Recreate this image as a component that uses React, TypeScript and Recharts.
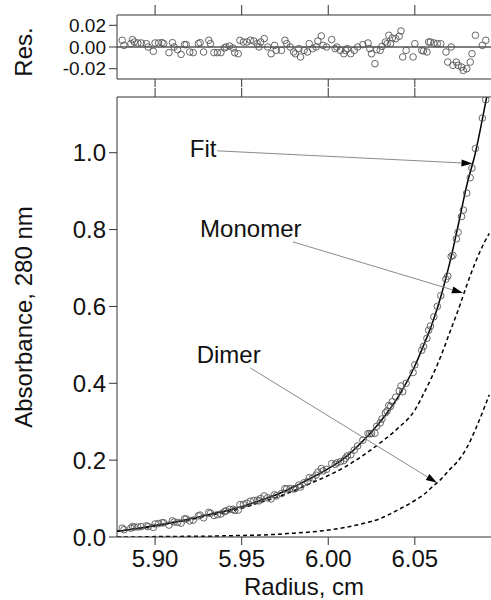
import React from 'react';
import {
  ComposedChart, Scatter, Line, XAxis, YAxis, ReferenceLine, ReferenceDot,
} from 'recharts';

// scan points (radius, cm)
const scanRadius = [
  5.881, 5.882, 5.886, 5.887, 5.888, 5.890, 5.892, 5.895, 5.896, 5.899,
  5.900, 5.902, 5.904, 5.905, 5.908, 5.910, 5.911, 5.913, 5.915, 5.917,
  5.918, 5.920, 5.922, 5.925, 5.926, 5.928, 5.931, 5.932, 5.934, 5.936,
  5.938, 5.940, 5.941, 5.943, 5.945, 5.946, 5.948, 5.949, 5.951, 5.953,
  5.955, 5.957, 5.959, 5.960, 5.961, 5.963, 5.965, 5.967, 5.969, 5.970,
  5.973, 5.975, 5.976, 5.978, 5.980, 5.981, 5.983, 5.984, 5.986, 5.988,
  5.989, 5.991, 5.993, 5.994, 5.996, 5.997, 5.999, 6.002, 6.004, 6.005,
  6.007, 6.009, 6.010, 6.011, 6.013, 6.015, 6.017, 6.020, 6.023, 6.024,
  6.025, 6.027, 6.028, 6.030, 6.031, 6.033, 6.034, 6.035, 6.036, 6.037,
  6.039, 6.041, 6.042, 6.043, 6.045, 6.049, 6.050, 6.054, 6.055, 6.057,
  6.058, 6.059, 6.061, 6.063, 6.065, 6.068, 6.069, 6.071, 6.072, 6.074, 6.075,
  6.077, 6.078, 6.080, 6.082, 6.083, 6.085, 6.089, 6.091,
];

const absorbance = [
  0.023, 0.019, 0.023, 0.027, 0.026, 0.026, 0.027, 0.029, 0.027, 0.025,
  0.034, 0.035, 0.037, 0.037, 0.031, 0.042, 0.039, 0.038, 0.036, 0.047,
  0.047, 0.042, 0.044, 0.055, 0.057, 0.050, 0.064, 0.062, 0.056, 0.058,
  0.060, 0.066, 0.068, 0.072, 0.072, 0.069, 0.070, 0.084, 0.085, 0.088,
  0.093, 0.095, 0.096, 0.094, 0.100, 0.107, 0.102, 0.099, 0.110, 0.107,
  0.113, 0.126, 0.125, 0.126, 0.125, 0.126, 0.135, 0.130, 0.141, 0.144,
  0.154, 0.154, 0.161, 0.169, 0.178, 0.172, 0.176, 0.191, 0.189, 0.193,
  0.196, 0.199, 0.205, 0.211, 0.214, 0.226, 0.237, 0.252, 0.269, 0.269,
  0.269, 0.270, 0.288, 0.297, 0.307, 0.323, 0.328, 0.342, 0.340, 0.352,
  0.364, 0.380, 0.393, 0.378, 0.400, 0.428, 0.448, 0.486, 0.496, 0.517,
  0.538, 0.549, 0.573, 0.600, 0.628, 0.671, 0.679, 0.730, 0.733, 0.776, 0.793,
  0.834, 0.851, 0.895, 0.935, 0.960, 1.011, 1.090, 1.138,
];

const residuals = [
  0.0062, 0.0015, 0.0031, 0.0068, 0.0046, 0.0037, 0.0037, 0.0031, 0.0000, -0.0040,
  0.0037, 0.0037, 0.0040, 0.0031, -0.0052, 0.0040, 0.0000, -0.0025, -0.0068, 0.0022,
  0.0022, -0.0046, -0.0052, 0.0031, 0.0040, -0.0046, 0.0062, 0.0031, -0.0052, -0.0052,
  -0.0052, -0.0009, 0.0000, 0.0009, -0.0009, -0.0052, -0.0062, 0.0062, 0.0046, 0.0046,
  0.0062, 0.0055, 0.0031, 0.0000, 0.0046, 0.0077, 0.0000, -0.0062, 0.0015, -0.0031,
  -0.0031, 0.0062, 0.0031, 0.0000, -0.0046, -0.0062, -0.0015, -0.0092, -0.0031, -0.0046,
  0.0031, -0.0015, 0.0000, 0.0055, 0.0102, 0.0015, 0.0000, 0.0068, -0.0015, 0.0000,
  -0.0031, -0.0062, -0.0031, -0.0015, -0.0062, -0.0031, 0.0000, 0.0022, 0.0037, -0.0015,
  -0.0062, -0.0154, -0.0025, -0.0031, 0.0006, 0.0046, 0.0031, 0.0108, 0.0031, 0.0083,
  0.0077, 0.0099, 0.0148, -0.0092, -0.0031, -0.0092, 0.0031, -0.0031, -0.0037, -0.0046,
  0.0046, 0.0046, 0.0037, 0.0031, 0.0030, -0.0046, -0.0139, 0.0000, -0.0169, -0.0139, -0.0169,
  -0.0185, -0.0216, -0.0200, -0.0139, -0.0062, 0.0108, 0.0015, 0.0062,
];

// model curves
const curveRadius = [
  5.878, 5.89, 5.90, 5.91, 5.92, 5.93, 5.94, 5.95, 5.96, 5.97, 5.98, 5.99, 6.00,
  6.01, 6.02, 6.03, 6.04, 6.05, 6.055, 6.06, 6.065, 6.07, 6.075, 6.08, 6.085, 6.09, 6.093,
];
const fitAbs = [
  0.015, 0.022, 0.030, 0.038, 0.047, 0.057, 0.067, 0.079, 0.094, 0.110, 0.130, 0.153, 0.178,
  0.208, 0.250, 0.300, 0.362, 0.445, 0.498, 0.555, 0.625, 0.710, 0.810, 0.915, 1.000, 1.110, 1.180,
];
const monomerAbs = [
  0.015, 0.022, 0.029, 0.037, 0.045, 0.055, 0.064, 0.075, 0.089, 0.103, 0.120, 0.140, 0.160,
  0.183, 0.212, 0.245, 0.282, 0.330, 0.372, 0.418, 0.470, 0.530, 0.590, 0.655, 0.715, 0.765, 0.790,
];
const dimerAbs = [
  0.000, 0.000, 0.001, 0.001, 0.002, 0.002, 0.003, 0.004, 0.005, 0.007, 0.010, 0.013, 0.018,
  0.025, 0.035, 0.048, 0.070, 0.095, 0.110, 0.130, 0.150, 0.175, 0.198, 0.232, 0.280, 0.335, 0.370,
];

const xTicks = [5.90, 5.95, 6.00, 6.05];
const absTicks = [0, 0.2, 0.4, 0.6, 0.8, 1.0];
const resTicks = [-0.02, 0, 0.02];

const X_DOMAIN: [number, number] = [5.878, 6.094];
const FONT = "'Liberation Sans', Arial, Helvetica, sans-serif";
const AXIS = '#333';

const points = scanRadius.map((r, i) => ({ r, a: absorbance[i] }));
const resPoints = scanRadius.map((r, i) => ({ r, a: residuals[i] }));
const fitData = curveRadius.map((r, i) => ({ r, a: fitAbs[i] }));
const monomerData = curveRadius.map((r, i) => ({ r, a: monomerAbs[i] }));
const dimerData = curveRadius.map((r, i) => ({ r, a: dimerAbs[i] }));

const openCircle = (p: any) => (
  <circle cx={p.cx} cy={p.cy} r={3.3} fill="none" stroke="#555" strokeWidth={0.9} />
);

const noLabel = () => <g />;

const arrow = (p: any) => {
  const { x1, y1, x2, y2 } = p;
  const ang = Math.atan2(y2 - y1, x2 - x1);
  const len = 11;
  const w = 3.5;
  const bx = x2 - len * Math.cos(ang);
  const by = y2 - len * Math.sin(ang);
  const nx = -Math.sin(ang) * w;
  const ny = Math.cos(ang) * w;
  return (
    <g>
      <line x1={x1} y1={y1} x2={bx} y2={by} stroke="#8a8a8a" strokeWidth={1} />
      <polygon points={`${x2},${y2} ${bx + nx},${by + ny} ${bx - nx},${by - ny}`} fill="#000" />
    </g>
  );
};

const textAt = (label: string) => (p: any) => (
  <text x={p.cx} y={p.cy} fontSize={24} fill="#111" fontFamily={FONT}>{label}</text>
);

const tickStyle = { fontSize: 24, fill: '#111' };
const resTickStyle = { fontSize: 19, fill: '#111' };

function ResidualPanel() {
  return (
    <ComposedChart width={491} height={100} margin={{ top: 14, right: 0, bottom: 20, left: 0 }}>
      <XAxis xAxisId="t" orientation="top" type="number" dataKey="r" domain={X_DOMAIN} ticks={xTicks}
        allowDataOverflow height={1} tickSize={10} tick={noLabel} stroke={AXIS} />
      <XAxis xAxisId="b" orientation="bottom" type="number" dataKey="r" domain={X_DOMAIN} ticks={xTicks}
        allowDataOverflow height={1} tickSize={8} tick={noLabel} stroke={AXIS} />
      <YAxis type="number" domain={[-0.0295, 0.0295]} ticks={resTicks} allowDataOverflow width={117}
        interval={0} tickSize={8} tickMargin={3} stroke={AXIS} tick={resTickStyle}
        tickFormatter={(v: number) => v.toFixed(2)}
        label={{ value: 'Res.', angle: -90, position: 'center', dx: -35, dy: 5, fontSize: 24, fill: '#111' }} />
      <ReferenceLine xAxisId="b" y={0} stroke="#000" strokeWidth={1} />
      <Scatter xAxisId="b" data={resPoints} dataKey="a" shape={openCircle} isAnimationActive={false} />
    </ComposedChart>
  );
}

function MainPanel() {
  return (
    <ComposedChart width={491} height={600} margin={{ top: 96, right: 0, bottom: 0, left: 0 }}>
      <XAxis xAxisId="t" orientation="top" type="number" dataKey="r" domain={X_DOMAIN} ticks={xTicks}
        allowDataOverflow height={1} tickSize={9} tick={noLabel} stroke={AXIS} />
      <XAxis xAxisId="b" orientation="bottom" type="number" dataKey="r" domain={X_DOMAIN} ticks={xTicks}
        allowDataOverflow height={63} tickSize={8} tickMargin={5} stroke={AXIS} tick={tickStyle}
        tickFormatter={(v: number) => v.toFixed(2)}
        label={{ value: 'Radius, cm', position: 'insideBottom', offset: 5, fontSize: 24, fill: '#111' }} />
      <YAxis type="number" domain={[0, 1.145]} ticks={absTicks} allowDataOverflow width={117}
        interval={0} tickSize={8} tickMargin={3} stroke={AXIS} tick={tickStyle}
        tickFormatter={(v: number) => v.toFixed(1)}
        label={{ value: 'Absorbance, 280 nm', angle: -90, position: 'center', dx: -35, fontSize: 24, fill: '#111' }} />
      <Scatter xAxisId="b" data={points} dataKey="a" shape={openCircle} isAnimationActive={false} />
      <Line xAxisId="b" data={monomerData} dataKey="a" type="monotone" stroke="#000" strokeWidth={1.5}
        strokeDasharray="4 3" dot={false} isAnimationActive={false} />
      <Line xAxisId="b" data={dimerData} dataKey="a" type="monotone" stroke="#000" strokeWidth={1.5}
        strokeDasharray="4 3" dot={false} isAnimationActive={false} />
      <Line xAxisId="b" data={fitData} dataKey="a" type="monotone" stroke="#000" strokeWidth={1.5}
        dot={false} isAnimationActive={false} />
      <ReferenceLine xAxisId="b" segment={[{ x: 5.9357, y: 1.005 }, { x: 6.0833, y: 0.972 }]} shape={arrow} />
      <ReferenceLine xAxisId="b" segment={[{ x: 5.9796, y: 0.768 }, { x: 6.0778, y: 0.635 }]} shape={arrow} />
      <ReferenceLine xAxisId="b" segment={[{ x: 5.955, y: 0.44 }, { x: 6.0628, y: 0.141 }]} shape={arrow} />
      <ReferenceDot xAxisId="b" x={5.920} y={0.99} r={0} shape={textAt('Fit')} />
      <ReferenceDot xAxisId="b" x={5.926} y={0.781} r={0} shape={textAt('Monomer')} />
      <ReferenceDot xAxisId="b" x={5.924} y={0.453} r={0} shape={textAt('Dimer')} />
    </ComposedChart>
  );
}

export default function App() {
  return (
    <div style={{ position: 'absolute', left: 0, top: 0, width: 491, height: 600, fontFamily: FONT, background: '#fff' }}>
      <div style={{ position: 'absolute', left: 0, top: 0 }}>
        <MainPanel />
      </div>
      <div style={{ position: 'absolute', left: 0, top: 0 }}>
        <ResidualPanel />
      </div>
    </div>
  );
}
